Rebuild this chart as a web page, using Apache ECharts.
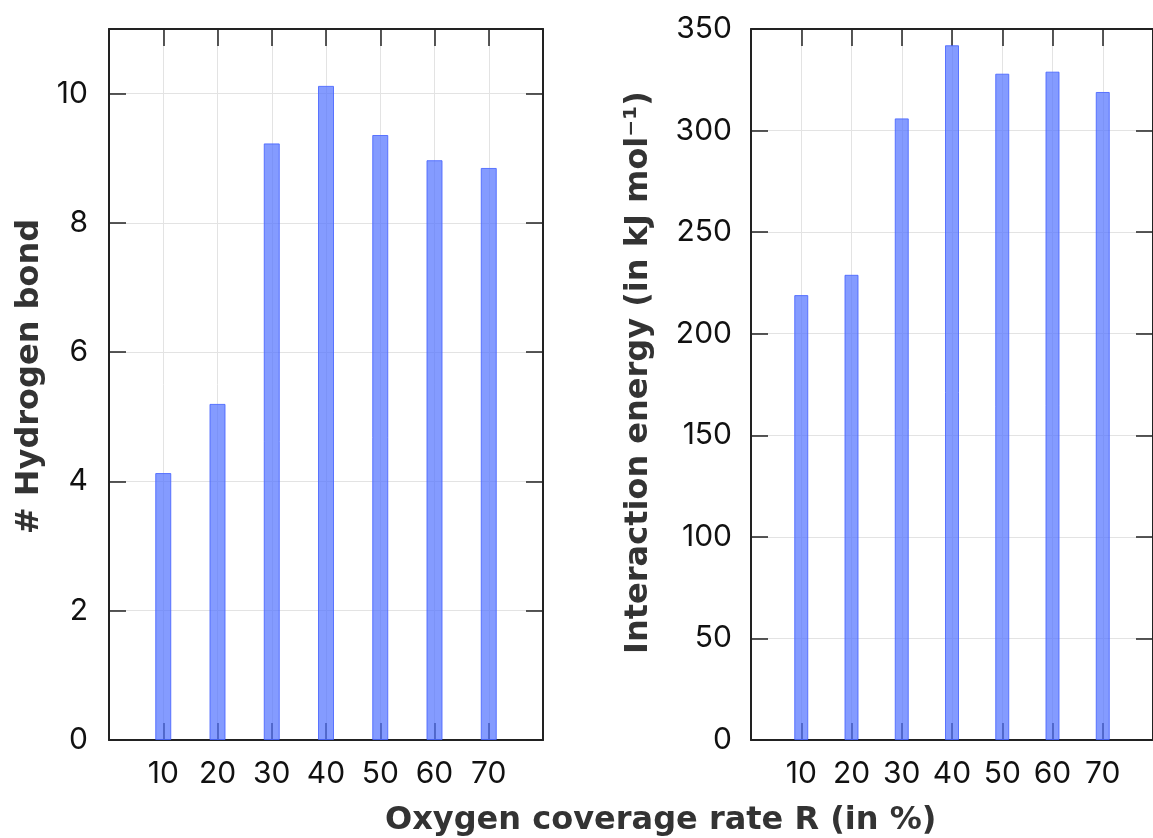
<!DOCTYPE html>
<html>
<head>
<meta charset="utf-8">
<script src="https://cdn.jsdelivr.net/npm/echarts@6/dist/echarts.min.js"></script>
<style>
html,body{margin:0;padding:0;background:#fff;}
#chart{width:1153px;height:838px;}
</style>
</head>
<body>
<div id="chart"></div>
<script>
const coverage = [10, 20, 30, 40, 50, 60, 70];
const hydrogenBonds = [4.13, 5.2, 9.23, 10.12, 9.36, 8.97, 8.85];
const interactionEnergy = [219, 229, 306, 342, 328, 329, 319];
const xTitle = 'Oxygen coverage rate R (in %)';
const yTitleLeft = '# Hydrogen bond';
const yTitleRight = 'Interaction energy (in kJ mol⁻¹)';

const chart = echarts.init(document.getElementById('chart'), null, {renderer: 'canvas'});
const tickFont = 'Inter, "Open Sans", sans-serif';
const titleFont = '"DejaVu Sans", Verdana, sans-serif';
const frameColor = '#222';
const gridColor = '#e3e3e3';

function xAxes(gridIndex) {
  const base = {
    gridIndex: gridIndex, type: 'value', min: 0, max: 80, interval: 10,
    axisLine: {show: true, onZero: false, lineStyle: {color: frameColor, width: 2}},
    axisTick: {show: true, inside: true, length: 17, lineStyle: {color: frameColor, width: 1.5},
               customValues: coverage},
  };
  return [
    Object.assign({}, base, {
      position: 'bottom',
      splitLine: {show: true, lineStyle: {color: gridColor, width: 1}},
      axisLabel: {show: true, margin: 19, fontSize: 30, color: '#111', fontFamily: tickFont,
        customValues: coverage},
    }),
    Object.assign({}, base, {
      position: 'top',
      splitLine: {show: false},
      axisLabel: {show: false},
    })
  ];
}

function yAxes(gridIndex, max, interval, name, nameGap, shiftUp, labelMargin, showMax) {
  const base = {
    gridIndex: gridIndex, type: 'value', min: 0, max: max, interval: interval,
    axisLine: {show: true, onZero: false, lineStyle: {color: frameColor, width: 2}},
    axisTick: {show: true, inside: true, length: 17, lineStyle: {color: frameColor, width: 1.5}},
  };
  return [
    Object.assign({}, base, {
      position: 'left',
      name: name, nameLocation: 'middle', nameGap: nameGap,
      nameTextStyle: {fontSize: 32, fontWeight: 'bold', color: '#333', fontFamily: titleFont,
        padding: [0, 0, 0, shiftUp * 2]},
      splitLine: {show: true, lineStyle: {color: gridColor, width: 1}},
      axisLabel: {show: true, margin: labelMargin, fontSize: 30, color: '#111', fontFamily: tickFont,
        showMaxLabel: showMax},
    }),
    Object.assign({}, base, {
      position: 'right',
      splitLine: {show: false},
      axisLabel: {show: false},
    })
  ];
}

const barStyle = {
  color: 'rgba(80,112,255,0.70)',
  borderColor: 'rgba(70,100,255,0.85)',
  borderWidth: 1
};

chart.setOption({
  animation: false,
  grid: [
    {left: 109, top: 29, width: 434, height: 711, containLabel: false},
    {left: 751, top: 29, width: 413, height: 711, containLabel: false}
  ],
  xAxis: [].concat(xAxes(0), xAxes(1)),
  yAxis: [].concat(
    yAxes(0, 11, 2, yTitleLeft, 63, 8, 21, false),
    yAxes(1, 350, 50, yTitleRight, 96, 12, 19, true)
  ),
  graphic: [{
    type: 'text', x: 385, y: 821,
    style: {text: xTitle, fill: '#333', font: 'bold 32px "DejaVu Sans", Verdana, sans-serif',
            textAlign: 'left', textVerticalAlign: 'middle'}
  }],
  series: [
    {
      type: 'bar', xAxisIndex: 0, yAxisIndex: 0, barWidth: 16,
      data: coverage.map((c, i) => [c, hydrogenBonds[i]]),
      itemStyle: barStyle
    },
    {
      type: 'bar', xAxisIndex: 2, yAxisIndex: 2, barWidth: 14,
      data: coverage.map((c, i) => [c, interactionEnergy[i]]),
      itemStyle: barStyle
    }
  ]
});
</script>
</body>
</html>
